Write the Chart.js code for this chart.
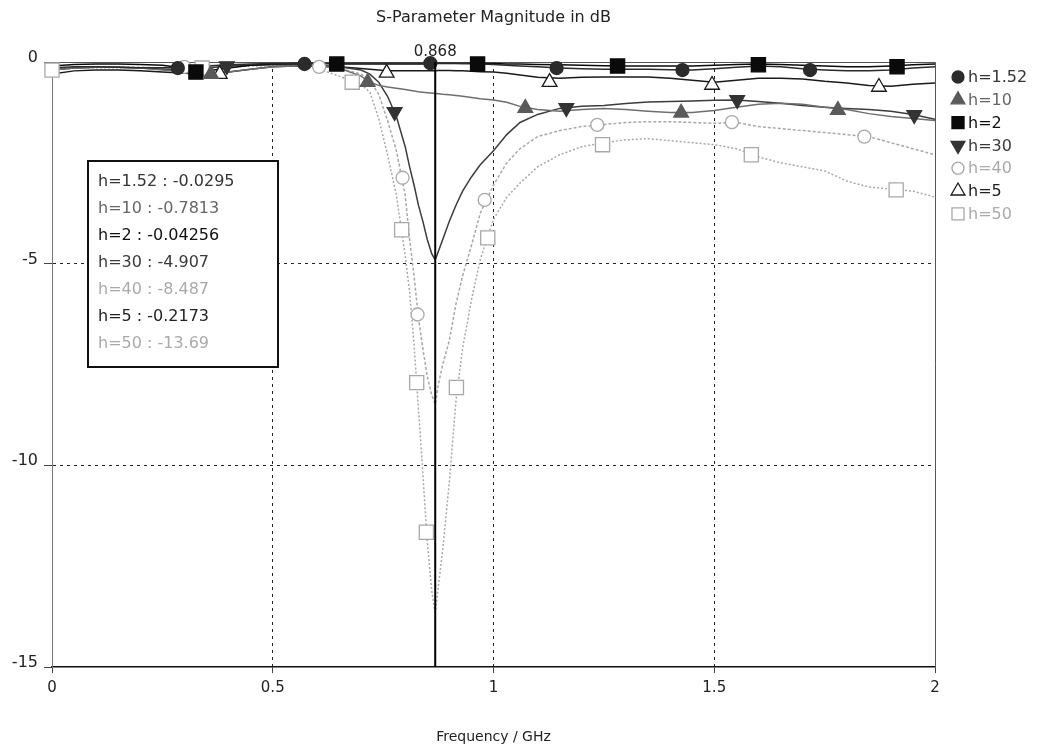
<!DOCTYPE html>
<html>
<head>
<meta charset="utf-8">
<title>S-Parameter Magnitude in dB</title>
<script src="https://cdn.jsdelivr.net/npm/chart.js@4"></script>
<style>
    html, body { margin: 0; padding: 0; background: #fff; }
    #wrap { width: 1043px; height: 752px; }
</style>
</head>
<body>
<div id="wrap"><canvas id="sparamChart" width="1043" height="752"></canvas></div>
<script>
// frequency grid (GHz), shared by all curves
const freqGHz = [0, 0.05, 0.1, 0.15, 0.2, 0.25, 0.3, 0.35, 0.4, 0.45, 0.5, 0.55, 0.6, 0.65,
    0.7, 0.72, 0.74, 0.76, 0.78, 0.8, 0.81, 0.82, 0.83, 0.84, 0.85, 0.86, 0.868,
    0.875, 0.885, 0.9, 0.915, 0.93, 0.95, 0.97, 1.0, 1.03, 1.06, 1.1,
    1.15, 1.2, 1.25, 1.3, 1.35, 1.4, 1.45, 1.5, 1.55, 1.6, 1.65, 1.7, 1.75, 1.8, 1.85, 1.9, 1.95, 2.0];

const seriesNames = ["h=1.52", "h=10", "h=2", "h=30", "h=40", "h=5", "h=50"];

// |S| in dB
const db_h152 = [-0.15, -0.12, -0.12, -0.13, -0.14, -0.14, -0.13, -0.1, -0.07, -0.05, -0.04, -0.04, -0.03, -0.03,
    -0.03, -0.03, -0.03, -0.03, -0.03, -0.03, -0.03, -0.03, -0.03, -0.03, -0.03, -0.03, -0.0295,
    -0.03, -0.03, -0.03, -0.03, -0.04, -0.04, -0.05, -0.06, -0.08, -0.1, -0.12,
    -0.15, -0.17, -0.18, -0.18, -0.18, -0.19, -0.2, -0.17, -0.13, -0.1, -0.12, -0.17, -0.2, -0.22, -0.22, -0.2, -0.15, -0.12];
const db_h10 = [-0.2, -0.15, -0.13, -0.13, -0.15, -0.2, -0.25, -0.3, -0.25, -0.18, -0.12, -0.1, -0.1, -0.15,
    -0.35, -0.5, -0.58, -0.62, -0.65, -0.68, -0.7, -0.72, -0.74, -0.75, -0.76, -0.77, -0.7813,
    -0.79, -0.8, -0.81, -0.83, -0.85, -0.88, -0.91, -0.94, -1.0, -1.1, -1.18,
    -1.22, -1.18, -1.15, -1.18, -1.22, -1.25, -1.25, -1.2, -1.12, -1.05, -1.02, -1.05, -1.12, -1.18, -1.28, -1.35, -1.4, -1.45];
const db_h2 = [-0.1, -0.06, -0.05, -0.05, -0.06, -0.08, -0.15, -0.22, -0.15, -0.08, -0.05, -0.04, -0.04, -0.05,
    -0.05, -0.05, -0.05, -0.05, -0.05, -0.05, -0.05, -0.05, -0.05, -0.05, -0.045, -0.043, -0.04256,
    -0.04, -0.04, -0.04, -0.04, -0.04, -0.04, -0.04, -0.04, -0.05, -0.05, -0.06,
    -0.07, -0.08, -0.09, -0.1, -0.1, -0.1, -0.1, -0.08, -0.06, -0.05, -0.06, -0.08, -0.1, -0.12, -0.12, -0.1, -0.07, -0.05];
const db_h30 = [-0.2, -0.15, -0.13, -0.13, -0.15, -0.18, -0.2, -0.15, -0.1, -0.08, -0.07, -0.07, -0.08, -0.12,
    -0.2, -0.3, -0.5, -0.85, -1.35, -2.1, -2.6, -3.05, -3.55, -3.95, -4.4, -4.75, -4.907,
    -4.7, -4.4, -3.95, -3.55, -3.2, -2.85, -2.55, -2.2, -1.8, -1.5, -1.3,
    -1.15, -1.1, -1.08, -1.03, -0.99, -0.98, -0.97, -0.95, -0.94, -0.98, -1.02, -1.08, -1.12, -1.15, -1.18, -1.22, -1.3, -1.42];
const db_h40 = [-0.2, -0.15, -0.12, -0.12, -0.13, -0.15, -0.12, -0.1, -0.08, -0.07, -0.07, -0.08, -0.1, -0.15,
    -0.3, -0.45, -0.8, -1.45, -2.2, -3.3, -4.4, -5.3, -6.35, -7.1, -7.8, -8.25, -8.487,
    -8.0, -7.5, -6.9, -6.0, -5.3, -4.55, -3.75, -3.05, -2.5, -2.15, -1.85,
    -1.7, -1.6, -1.55, -1.5, -1.48, -1.48, -1.5, -1.52, -1.5, -1.6, -1.65, -1.7, -1.75, -1.8, -1.85, -2.0, -2.15, -2.3];
const db_h5 = [-0.3, -0.22, -0.2, -0.2, -0.22, -0.25, -0.28, -0.3, -0.25, -0.18, -0.12, -0.1, -0.1, -0.12,
    -0.16, -0.18, -0.2, -0.22, -0.22, -0.22, -0.22, -0.22, -0.22, -0.22, -0.22, -0.22, -0.2173,
    -0.21, -0.21, -0.21, -0.22, -0.22, -0.23, -0.24, -0.25, -0.28, -0.32, -0.38,
    -0.4, -0.38, -0.37, -0.37, -0.37, -0.4, -0.45, -0.5, -0.45, -0.4, -0.4, -0.42, -0.48, -0.52, -0.58, -0.6, -0.55, -0.52];
const db_h50 = [-0.2, -0.15, -0.14, -0.14, -0.15, -0.15, -0.15, -0.15, -0.12, -0.1, -0.1, -0.1, -0.15, -0.35,
    -0.55, -0.75, -1.4, -2.3, -3.3, -4.8, -5.7, -7.0, -8.6, -10.2, -11.9, -13.1, -13.69,
    -13.0, -12.1, -10.4, -8.4, -7.1, -5.9, -4.9, -3.9, -3.35, -3.0, -2.6,
    -2.3, -2.1, -2.0, -1.93, -1.9, -1.95, -2.0, -2.05, -2.15, -2.35, -2.5, -2.6, -2.7, -2.95, -3.1, -3.15, -3.2, -3.35];

// curve symbols as placed on the plot [GHz, dB]
const mk_h152 = [[0.285, -0.15], [0.572, -0.05], [0.857, -0.03], [1.143, -0.15], [1.428, -0.2], [1.717, -0.2]];
const mk_h10 = [[0.36, -0.3], [0.715, -0.5], [1.072, -1.14], [1.425, -1.26], [1.78, -1.19]];
const mk_h2 = [[0.326, -0.25], [0.645, -0.05], [0.964, -0.05], [1.281, -0.1], [1.6, -0.07], [1.914, -0.12]];
const mk_h30 = [[0.396, -0.1], [0.776, -1.24], [1.165, -1.14], [1.552, -0.94], [1.953, -1.31]];
const mk_h40 = [[0.3, -0.12], [0.605, -0.12], [0.794, -2.87], [0.828, -6.26], [0.98, -3.42], [1.235, -1.56], [1.54, -1.49], [1.84, -1.85]];
const mk_h5 = [[0.38, -0.3], [0.758, -0.27], [1.127, -0.5], [1.495, -0.57], [1.873, -0.62]];
const mk_h50 = [[0, -0.2], [0.34, -0.15], [0.68, -0.5], [0.792, -4.16], [0.826, -7.95], [0.848, -11.66], [0.916, -8.07], [0.987, -4.36], [1.247, -2.05], [1.584, -2.3], [1.912, -3.17]];

const xTickValues = [0, 0.5, 1, 1.5, 2];
const xTickLabels = ["0", "0.5", "1", "1.5", "2"];
const yTickValues = [0, -5, -10, -15];
const yTickLabels = ["0", "-5", "-10", "-15"];
const markerFreq = 0.868;

const allDb = [db_h152, db_h10, db_h2, db_h30, db_h40, db_h5, db_h50];
const allMk = [mk_h152, mk_h10, mk_h2, mk_h30, mk_h40, mk_h5, mk_h50];

const seriesStyle = [
    { line: "#2b2b2b", dash: [], shape: "circle", r: 6.5, rot: 0, fill: "#2b2b2b", edge: "#2b2b2b", text: "#333" },
    { line: "#6e6e6e", dash: [], shape: "triangle", r: 8.5, rot: 0, fill: "#5a5a5a", edge: "#5a5a5a", text: "#666" },
    { line: "#0a0a0a", dash: [], shape: "rect", r: 10, rot: 0, fill: "#0a0a0a", edge: "#0a0a0a", text: "#111" },
    { line: "#3c3c3c", dash: [], shape: "triangle", r: 8.5, rot: 180, fill: "#333", edge: "#333", text: "#3a3a3a" },
    { line: "#a8a8a8", dash: [3, 2], shape: "circle", r: 6.5, rot: 0, fill: "#fff", edge: "#a8a8a8", text: "#aaa" },
    { line: "#1a1a1a", dash: [], shape: "triangle", r: 8.5, rot: 0, fill: "#fff", edge: "#1a1a1a", text: "#222" },
    { line: "#a8a8a8", dash: [2, 2], shape: "rect", r: 10, rot: 0, fill: "#fff", edge: "#a8a8a8", text: "#aaa" }
];

const FONT = '"DejaVu Sans", Verdana, sans-serif';

function buildDatasets() {
    const sets = [];
    seriesNames.forEach((name, i) => {
        const st = seriesStyle[i];
        sets.push({
            label: name,
            data: freqGHz.map((f, k) => ({ x: f, y: allDb[i][k] })),
            showLine: true,
            borderColor: st.line,
            borderWidth: 1.5,
            borderDash: st.dash,
            pointRadius: 0,
            tension: 0,
            order: 2
        });
        sets.push({
            label: name + " markers",
            data: allMk[i].map(p => ({ x: p[0], y: p[1] })),
            showLine: false,
            pointStyle: st.shape,
            pointRadius: st.r,
            pointRotation: st.rot,
            pointBackgroundColor: st.fill,
            pointBorderColor: st.edge,
            pointBorderWidth: 1.3,
            clip: false,
            order: 1
        });
    });
    return sets;
}

const decorPlugin = {
    id: "decor",
    beforeDatasetsDraw(chart) {
        const { ctx, chartArea: a } = chart;
        ctx.save();
        ctx.strokeStyle = "#555";
        ctx.lineWidth = 1;
        ctx.beginPath();
        ctx.moveTo(a.left, a.top + 0.5);
        ctx.lineTo(a.right + 0.5, a.top + 0.5);
        ctx.lineTo(a.right + 0.5, a.bottom);
        ctx.stroke();
        ctx.restore();
    },
    afterDatasetsDraw(chart) {
        const { ctx, chartArea: a, scales } = chart;
        const px = scales.x.getPixelForValue(markerFreq);
        ctx.save();
        ctx.strokeStyle = "#000";
        ctx.lineWidth = 2;
        ctx.beginPath();
        ctx.moveTo(px, a.top);
        ctx.lineTo(px, a.bottom);
        ctx.stroke();
        ctx.fillStyle = "#222";
        ctx.font = "15px " + FONT;
        ctx.textAlign = "center";
        ctx.textBaseline = "alphabetic";
        ctx.fillText(markerFreq.toFixed(3), px, a.top - 6);
        ctx.restore();
    },
    afterDraw(chart) {
        const { ctx, chartArea: a } = chart;
        ctx.save();

        // title
        ctx.fillStyle = "#222";
        ctx.font = "16px " + FONT;
        ctx.textAlign = "center";
        ctx.textBaseline = "middle";
        ctx.fillText("S-Parameter Magnitude in dB", (a.left + a.right) / 2, 18);

        // readout box at the marker frequency
        const idx = freqGHz.indexOf(markerFreq);
        const bx = a.left + 36, by = a.top + 99, bw = 190, bh = 206;
        ctx.fillStyle = "#fff";
        ctx.fillRect(bx, by, bw, bh);
        ctx.strokeStyle = "#111";
        ctx.lineWidth = 2;
        ctx.strokeRect(bx, by, bw, bh);
        ctx.font = "16px " + FONT;
        ctx.textAlign = "left";
        seriesNames.forEach((name, i) => {
            ctx.fillStyle = seriesStyle[i].text;
            ctx.fillText(name + " : " + allDb[i][idx], bx + 10, by + 21 + i * 27);
        });

        // legend at the right
        const lx = a.right + 23, ly = 77;
        ctx.font = "16px " + FONT;
        seriesNames.forEach((name, i) => {
            const st = seriesStyle[i];
            const y = ly + i * 22.8;
            ctx.fillStyle = st.fill;
            ctx.strokeStyle = st.edge;
            ctx.lineWidth = 1.3;
            Chart.helpers.drawPoint(ctx, {
                pointStyle: st.shape,
                radius: st.shape === "rect" ? 8.5 : (st.shape === "circle" ? 6 : 8),
                rotation: st.rot,
                borderWidth: 1.3
            }, lx, y);
            ctx.fillStyle = st.text;
            ctx.textAlign = "left";
            ctx.fillText(name, lx + 10, y + 1);
        });
        ctx.restore();
    }
};

const gridColor = edges => c => (edges.includes(c.tick.value) ? "rgba(0,0,0,0)" : "#222");

new Chart(document.getElementById("sparamChart"), {
    type: "scatter",
    data: { datasets: buildDatasets() },
    options: {
        responsive: false,
        animation: false,
        devicePixelRatio: 1,
        layout: { padding: { top: 62, right: 108, left: 0, bottom: 0 } },
        plugins: {
            legend: { display: false },
            tooltip: { enabled: false },
            title: { display: false }
        },
        scales: {
            x: {
                type: "linear",
                min: 0,
                max: 2,
                afterBuildTicks: axis => { axis.ticks = xTickValues.map(v => ({ value: v })); },
                afterFit: axis => { axis.height = 85; },
                ticks: {
                    color: "#222", font: { family: FONT, size: 15 }, padding: 6, maxRotation: 0,
                    callback: value => xTickLabels[xTickValues.indexOf(value)]
                },
                grid: { color: gridColor([0, 2]), lineWidth: 1, drawTicks: true, tickLength: 6, tickColor: "#444", tickWidth: 1 },
                border: { display: true, color: "#111", width: 1.5, dash: [3, 4] },
                title: { display: true, text: "Frequency / GHz", color: "#222", font: { family: FONT, size: 14 }, padding: { top: 0, bottom: 6 } }
            },
            y: {
                type: "linear",
                min: -15,
                max: 0,
                afterBuildTicks: axis => { axis.ticks = yTickValues.map(v => ({ value: v })); },
                afterFit: axis => { axis.width = 52; },
                ticks: {
                    color: "#222", font: { family: FONT, size: 16 }, padding: 6, labelOffset: -4,
                    callback: value => yTickLabels[yTickValues.indexOf(value)]
                },
                grid: { color: gridColor([0, -15]), lineWidth: 1, drawTicks: true, tickLength: 8, tickColor: "#444", tickWidth: 1 },
                border: { display: true, color: "#777", width: 1, dash: [3, 4] }
            }
        }
    },
    plugins: [decorPlugin]
});
</script>
</body>
</html>
